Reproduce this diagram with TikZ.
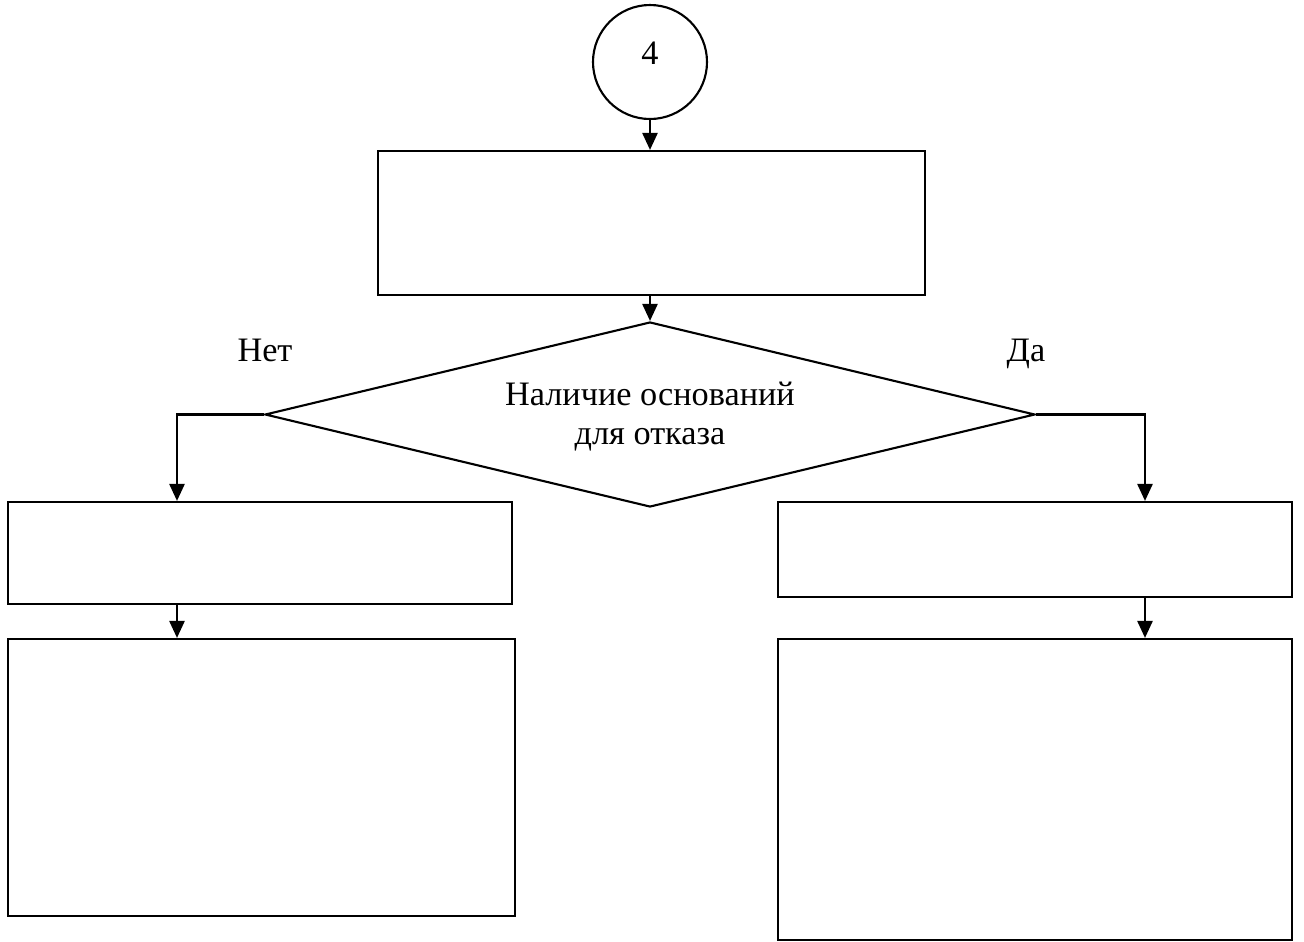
\documentclass[tikz,border=0pt]{standalone}
\usepackage{fontspec}
\setmainfont{Liberation Serif}
\usetikzlibrary{arrows.meta,shapes.geometric}
\tikzset{
	blk/.style={draw, line width=1.2pt, rectangle, inner sep=0pt},
	conn/.style={draw, line width=1.2pt, circle, inner sep=0pt, minimum size=2.28cm},
	cond/.style={draw, line width=1.2pt, diamond, aspect=4.16, inner sep=0pt, align=center},
	flow/.style={line width=1.4pt, -{Triangle[length=0.34cm,width=0.3cm]}}
}

\begin{document}
\begin{tikzpicture}[font=\fontsize{19.5}{22.5}\selectfont]
		%%%%% START %%%%%
		\useasboundingbox (0, 0) rectangle (26.08, -18.84);
		
		\node[conn, label={[yshift=0.18cm]center:4}] (c4) at (13.0, -1.24) {};
		
		\node[blk, minimum width=10.94cm, minimum height=2.88cm] (b1) at (13.03, -4.46) {};
		
		\node[cond, minimum width=15.4cm, minimum height=3.7cm] (q1) at (13.0, -8.29) {};
		\node[align=center] (q1t) at (13.0, -8.33) {Наличие оснований\\для отказа};
		
		\node (no) at (5.3, -7.0) {Нет};
		\node (yes) at (20.52, -7.07) {Да};
		
		\node[blk, minimum width=10.08cm, minimum height=2.04cm] (nb1) at (5.2, -11.06) {};
		\node[blk, minimum width=10.14cm, minimum height=5.54cm] (nb2) at (5.23, -15.55) {};
		
		\node[blk, minimum width=10.28cm, minimum height=1.9cm] (yb1) at (20.7, -10.99) {};
		\node[blk, minimum width=10.28cm, minimum height=6.02cm] (yb2) at (20.7, -15.79) {};
		
		\coordinate (nx) at (3.54, -8.3);
		\coordinate (yx) at (22.9, -8.3);
		
		\draw[flow] (c4.south) -- (c4.south |- b1.north);
		\draw[flow] (q1.north |- b1.south) -- (q1.north);
		
		\draw[flow] (q1.west) -| (nx |- nb1.north);
		\draw[flow] (nx |- nb1.south) -- (nx |- nb2.north);
		
		\draw[flow] (q1.east) -| (yx |- yb1.north);
		\draw[flow] (yx |- yb1.south) -- (yx |- yb2.north);
		%%%%% END %%%%%
\end{tikzpicture}
\end{document}
